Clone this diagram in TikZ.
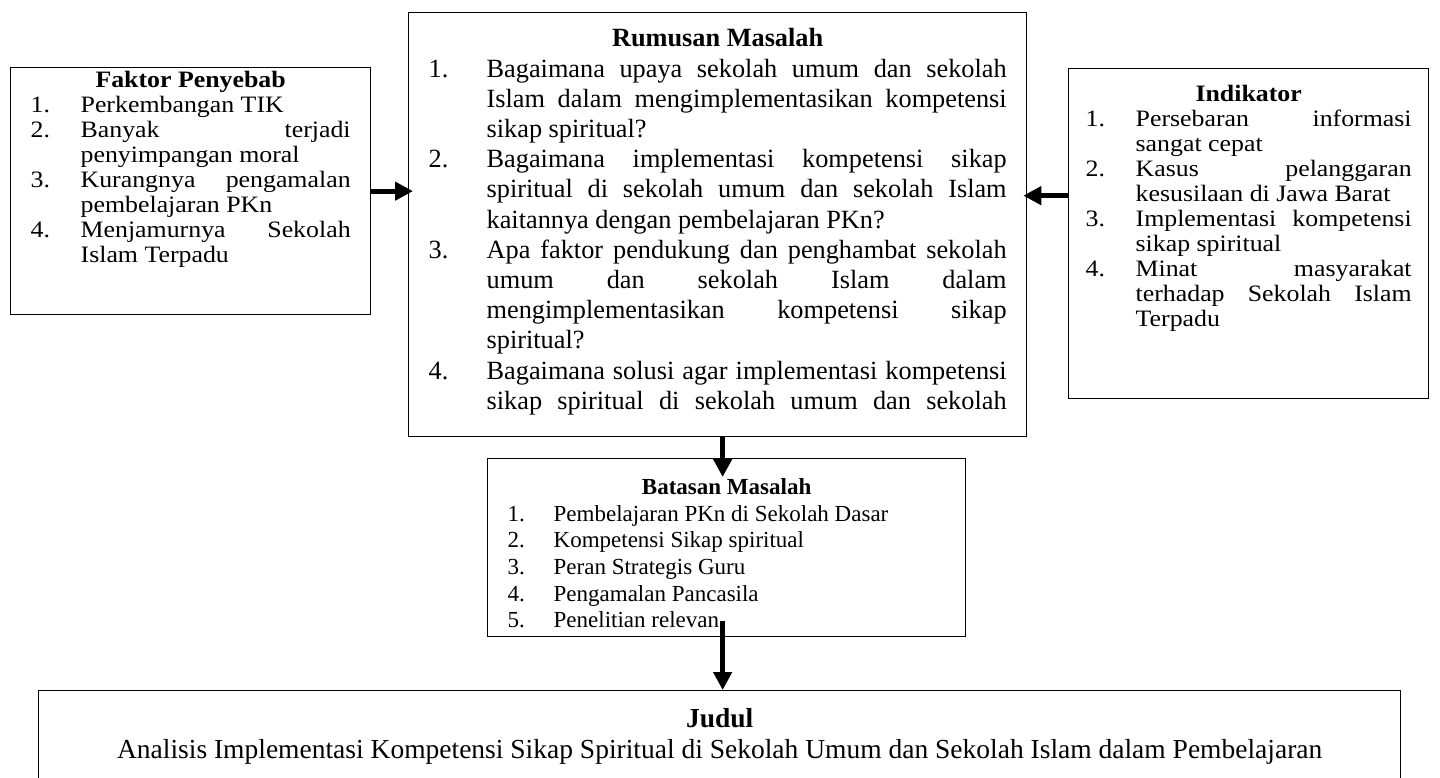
\documentclass[tikz,border=0pt]{standalone}
\usepackage{fontspec}
\setmainfont{Liberation Serif}
\newfontfamily\lebar[FakeStretch=1.1]{Liberation Serif}
\usetikzlibrary{arrows.meta}
\usetikzlibrary{positioning}

\hyphenpenalty=10000
\exhyphenpenalty=10000
\hbadness=10000
\newlength{\indt}
\newcommand{\butir}[2]{\par\noindent\hangindent=\indt\hangafter=1\makebox[\indt][l]{#1}#2}
\newcommand{\judulkotak}[1]{{\centering\bfseries #1\par}}

\begin{document}
\begin{tikzpicture}[x=1pt, y=-1pt,
    kotak/.style={draw, line width=1.3pt, rectangle, anchor=north west, inner xsep=20pt},
    panah/.style={line width=5pt, -{Triangle[length=18pt, width=18pt]}}]
    \useasboundingbox (0,0) rectangle (1440,778);
    \clip (0,0) rectangle (1440,778);

    \node[kotak, inner ysep=4pt] (faktor) at (10,67) {\lebar\fontsize{23.5}{25}\selectfont\setlength{\indt}{50pt}%
        \parbox[c][239pt][t]{320pt}{%
        \judulkotak{Faktor Penyebab}
        \butir{1.}{Perkembangan TIK}
        \butir{2.}{Banyak terjadi\linebreak penyimpangan moral}
        \butir{3.}{Kurangnya pengamalan\linebreak pembelajaran PKn}
        \butir{4.}{Menjamurnya Sekolah\linebreak Islam Terpadu}}};

    \node[kotak, inner ysep=16pt] (rumusan) at (408,12) {\fontsize{26.3}{30.2}\selectfont\setlength{\indt}{58pt}%
        \parbox[c][392pt][t]{578pt}{%
        \judulkotak{Rumusan Masalah}
        \butir{1.}{Bagaimana upaya sekolah umum dan sekolah\linebreak Islam dalam mengimplementasikan kompetensi\linebreak sikap spiritual?}
        \butir{2.}{Bagaimana implementasi kompetensi sikap\linebreak spiritual di sekolah umum dan sekolah Islam\linebreak kaitannya dengan pembelajaran PKn?}
        \butir{3.}{Apa faktor pendukung dan penghambat sekolah\linebreak umum dan sekolah Islam dalam\linebreak mengimplementasikan kompetensi sikap\linebreak spiritual?}
        \butir{4.}{Bagaimana solusi agar implementasi kompetensi\linebreak sikap spiritual di sekolah umum dan sekolah\parfillskip=0pt\par}}};

    \node[kotak, inner xsep=17pt, inner ysep=17pt] (indikator) at (1068,68) {\lebar\fontsize{23.5}{25}\selectfont\setlength{\indt}{50pt}%
        \parbox[c][296pt][t]{326pt}{%
        \judulkotak{Indikator}
        \butir{1.}{Persebaran informasi\linebreak sangat cepat}
        \butir{2.}{Kasus pelanggaran\linebreak kesusilaan di Jawa Barat}
        \butir{3.}{Implementasi kompetensi\linebreak sikap spiritual}
        \butir{4.}{Minat masyarakat\linebreak terhadap Sekolah Islam\linebreak Terpadu}}};

    \node[kotak, inner ysep=20pt] (batasan) at (487,458) {\fontsize{23}{26.6}\selectfont\setlength{\indt}{46pt}%
        \parbox[c][138pt][t]{438pt}{%
        \judulkotak{Batasan Masalah}
        \butir{1.}{Pembelajaran PKn di Sekolah Dasar}
        \butir{2.}{Kompetensi Sikap spiritual}
        \butir{3.}{Peran Strategis Guru}
        \butir{4.}{Pengamalan Pancasila}
        \butir{5.}{Penelitian relevan}}};

    \node[kotak, inner ysep=18pt] (judul) at (38,690) {\fontsize{27.5}{31}\selectfont%
        \parbox[c][120pt][t]{1322pt}{%
        \judulkotak{Judul}
        {\centering Analisis Implementasi Kompetensi Sikap Spiritual di Sekolah Umum dan Sekolah Islam dalam Pembelajaran\par}}};

    % arrows between the boxes
    \draw[panah, shorten >=-5pt] (faktor.east) -- (faktor.east -| rumusan.west);
    \draw[panah, shorten >=-4pt] ([yshift=38pt]indikator.west) -- ([yshift=38pt]indikator.west -| rumusan.east);
    \draw[panah, shorten >=-19pt] ([xshift=5pt]rumusan.south) -- ([xshift=5pt]rumusan.south |- batasan.north);
    \draw[panah, shorten <=-16pt] ([xshift=-4pt]batasan.south) -- ([xshift=-4pt]batasan.south |- judul.north);
\end{tikzpicture}
\end{document}
